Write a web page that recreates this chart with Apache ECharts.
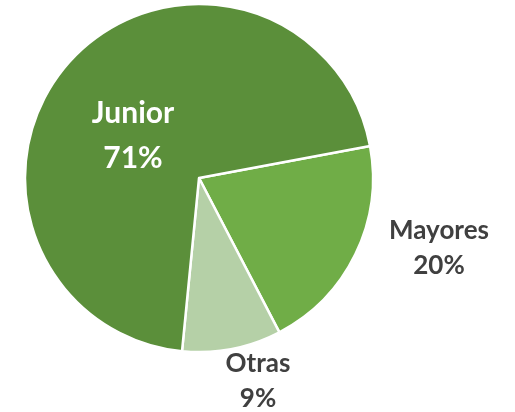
<!DOCTYPE html>
<html>
<head>
<meta charset="utf-8">
<script src="https://cdn.jsdelivr.net/npm/echarts@6/dist/echarts.min.js"></script>
<style>html,body{margin:0;padding:0;background:#fff}#c{width:515px;height:412px}</style>
</head>
<body>
<div id="c"></div>
<script>
const categories = ['Mayores', 'Otras', 'Junior'];
const values = [20.3, 9.2, 70.5];
const colors = ['#70AD47', '#B5D0A7', '#5B8F3A'];

const labelPos = [[439, 248], [258, 381], [133, 136]];
const labelStyles = [
  { color: '#404040', fontSize: 26, lineHeight: 35, position: 'outside' },
  { color: '#404040', fontSize: 26, lineHeight: 35, position: 'outside' },
  { color: '#ffffff', fontSize: 30, lineHeight: 45, position: 'inside' }
];

const chart = echarts.init(document.getElementById('c'));
chart.setOption({
  animation: false,
  series: [{
    type: 'pie',
    center: [199, 178],
    radius: 174,
    startAngle: 10.6,
    clockwise: true,
    percentPrecision: 0,
    avoidLabelOverlap: false,
    itemStyle: { borderColor: '#ffffff', borderWidth: 2.5 },
    label: {
      show: true,
      formatter: '{b}\n{d}%',
      fontFamily: 'Lato',
      fontWeight: 'bold'
    },
    labelLine: { show: false },
    labelLayout: function (p) {
      const pos = labelPos[p.dataIndex];
      return { x: pos[0], y: pos[1], align: 'center', verticalAlign: 'middle', hideOverlap: false };
    },
    data: categories.map((name, i) => ({
      name: name,
      value: values[i],
      itemStyle: { color: colors[i] },
      label: Object.assign({ fontFamily: 'Lato', fontWeight: 'bold', align: 'center' }, labelStyles[i])
    }))
  }]
});
</script>
</body>
</html>
